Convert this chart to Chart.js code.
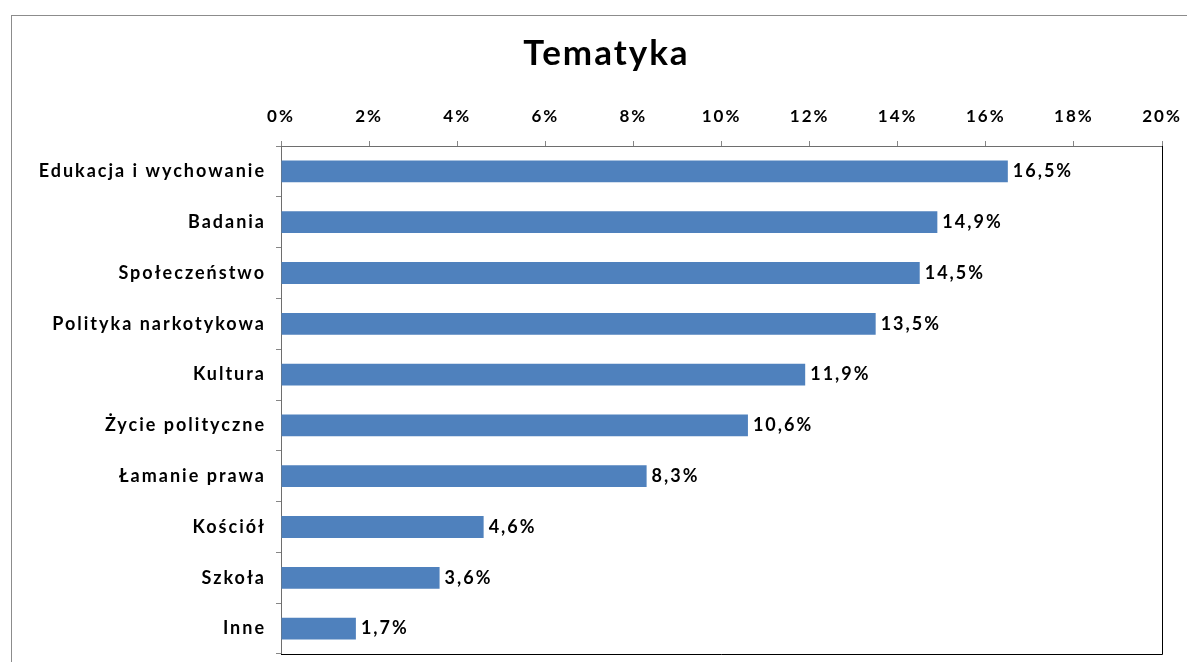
<!DOCTYPE html>
<html>
<head>
<meta charset="utf-8">
<script src="https://cdn.jsdelivr.net/npm/chart.js@4"></script>
<style>
  body { margin: 0; background: #fff; overflow: hidden; }
  #box { position: absolute; left: 11px; top: 15px; width: 1189px; height: 680px; border: 1px solid #8c8c8c; background: #fff; }
</style>
</head>
<body>
<div id="box"><canvas id="mycanvas" width="1189" height="680"></canvas></div>
<script>
var categories = ['Edukacja i wychowanie', 'Badania', 'Społeczeństwo', 'Polityka narkotykowa', 'Kultura',
	'Życie polityczne', 'Łamanie prawa', 'Kościół', 'Szkoła', 'Inne'];
var values = [16.5, 14.9, 14.5, 13.5, 11.9, 10.6, 8.3, 4.6, 3.6, 1.7];
var xTicks = [0, 2, 4, 6, 8, 10, 12, 14, 16, 18, 20];

var fontFamily = 'Lato, "Open Sans", sans-serif';

// spacing between letters like the original
var spacing = {
	id: 'spacing',
	beforeLayout: function(chart) { chart.ctx.letterSpacing = '2px'; },
	beforeDraw: function(chart) { chart.ctx.letterSpacing = '2px'; }
};

// plot area frame
var frame = {
	id: 'frame',
	afterDraw: function(chart) {
		var a = chart.chartArea, ctx = chart.ctx;
		ctx.save();
		ctx.lineWidth = 1;
		ctx.strokeStyle = '#000';
		ctx.beginPath();
		ctx.moveTo(a.right + 0.5, a.top);
		ctx.lineTo(a.right + 0.5, a.bottom + 0.5);
		ctx.lineTo(a.left, a.bottom + 0.5);
		ctx.stroke();
		ctx.restore();
	}
};

// value labels at the bar ends
var valueLabels = {
	id: 'valueLabels',
	afterDatasetsDraw: function(chart) {
		var ctx = chart.ctx;
		var meta = chart.getDatasetMeta(0);
		ctx.save();
		ctx.font = 'bold 18px ' + fontFamily;
		ctx.fillStyle = '#000';
		ctx.textAlign = 'left';
		ctx.textBaseline = 'middle';
		meta.data.forEach(function(bar, i) {
			ctx.fillText(values[i].toFixed(1).replace('.', ',') + '%', bar.x + 5, bar.y);
		});
		ctx.restore();
	}
};

var chartdata = {
	labels: categories,
	datasets: [{
		label: 'Tematyka',
		backgroundColor: '#4f81bd',
		borderWidth: 0,
		categoryPercentage: 1,
		barPercentage: 0.43,
		data: values
	}]
};

var ctx = document.getElementById('mycanvas');
var barChart = new Chart(ctx, {
	type: 'bar',
	data: chartdata,
	plugins: [spacing, frame, valueLabels],
	options: {
		indexAxis: 'y',
		responsive: false,
		animation: false,
		layout: { padding: { top: 0, left: 0, right: 0, bottom: 42 } },
		plugins: {
			legend: { display: false },
			tooltip: { enabled: false },
			title: {
				display: true,
				text: 'Tematyka',
				color: '#000',
				font: { family: fontFamily, size: 35, weight: 'bold', lineHeight: 1.2 },
				padding: { top: 17, bottom: 0 }
			}
		},
		scales: {
			x: {
				position: 'top',
				min: 0,
				max: 20,
				afterBuildTicks: function(scale) {
					scale.ticks = xTicks.map(function(v) { return { value: v }; });
				},
				afterFit: function(scale) {
					scale.height = 71;
					scale.paddingLeft = 0;
					scale.paddingRight = 39;
				},
				grid: { drawOnChartArea: false, drawTicks: true, tickLength: 5, color: '#868686' },
				border: { color: '#6e6e6e', width: 1 },
				ticks: {
					color: '#000',
					padding: 14,
					maxRotation: 0,
					font: { family: fontFamily, size: 17, weight: 'bold' },
					callback: function(v) { return v + '%'; }
				}
			},
			y: {
				afterFit: function(scale) { scale.width = 269; },
				grid: { drawOnChartArea: false, drawTicks: true, tickLength: 5, offset: true, color: '#868686' },
				border: { color: '#6e6e6e', width: 1 },
				ticks: {
					color: '#000',
					padding: 10,
					font: { family: fontFamily, size: 18, weight: 'bold' }
				}
			}
		}
	}
});
</script>
</body>
</html>
